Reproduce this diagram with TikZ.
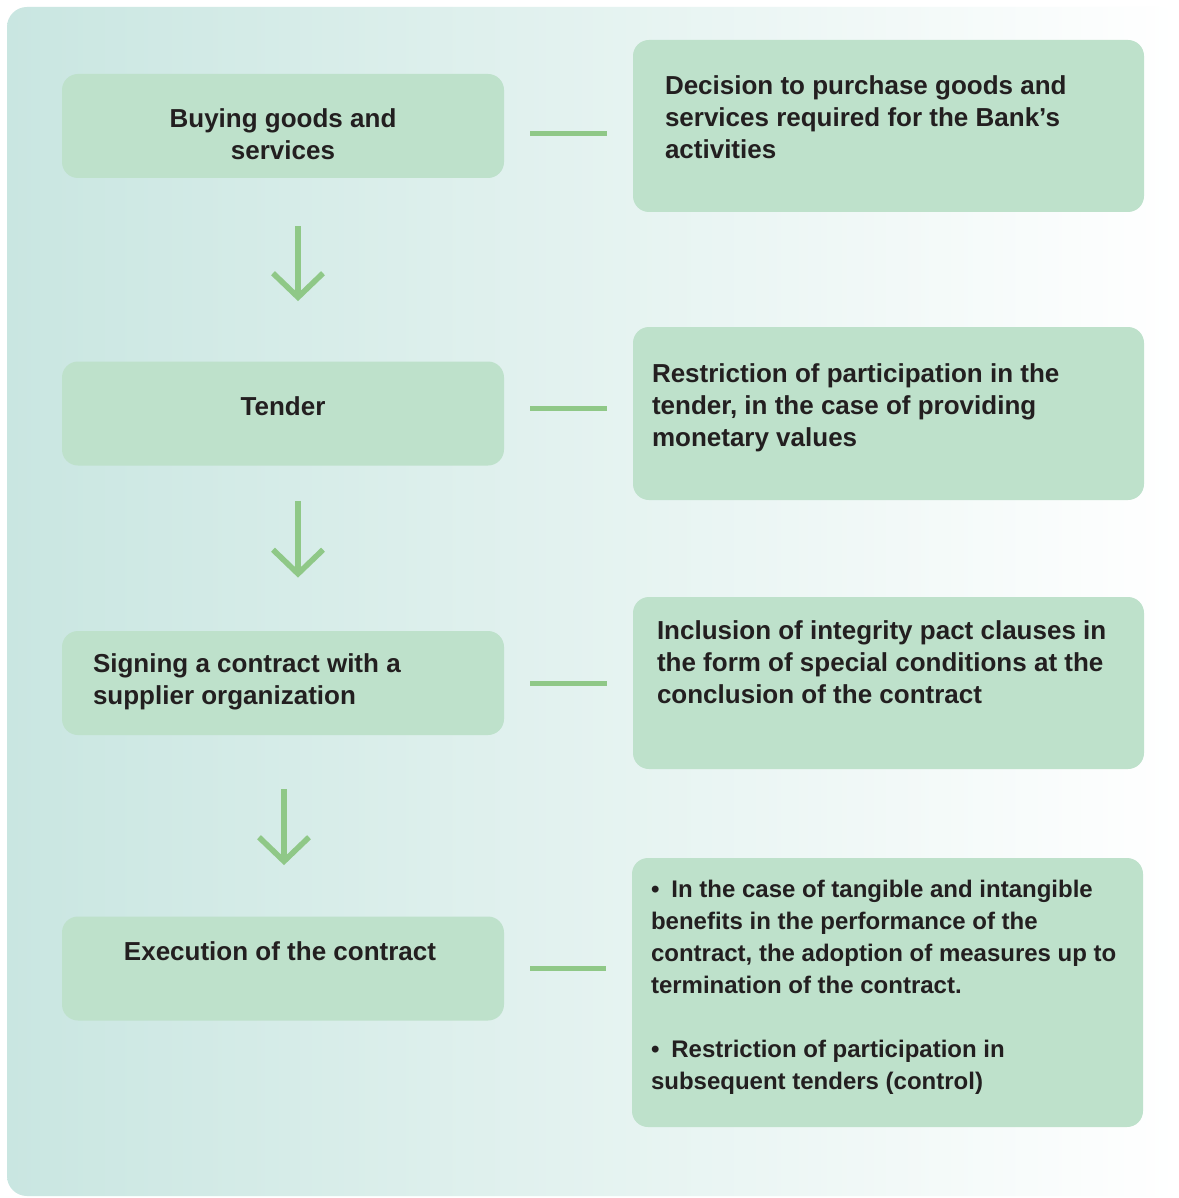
\documentclass[tikz,border=0pt]{standalone}
\usepackage{fontspec}
\setmainfont{Liberation Sans}
\usepackage{xcolor}
\usetikzlibrary{arrows.meta,positioning}
\definecolor{panelleft}{HTML}{C9E6E1}
\definecolor{boxfill}{HTML}{BEE1CB}
\definecolor{flowgreen}{HTML}{8FC887}
\definecolor{inktext}{HTML}{231F20}
\newcommand\firstline{\rule{0pt}{11pt}}

\begin{document}
\begin{tikzpicture}[
  x=0.5pt, y=-0.5pt,
  stage/.style={fill=boxfill, rounded corners=8pt, minimum width=221pt, minimum height=52pt, inner sep=0pt},
  note/.style={fill=boxfill, rounded corners=8pt, minimum width=255.5pt, minimum height=86pt, inner sep=0pt},
  txt/.style={font=\fontsize{13}{16}\selectfont\bfseries, text=inktext, inner sep=0pt, align=left},
  ctxt/.style={txt, align=center},
  arrow/.style={-{Straight Barb[length=12pt,width=25pt]}, line width=2.8pt, draw=flowgreen},
  link/.style={draw=flowgreen, line width=2.5pt, shorten <=13pt, shorten >=13pt}
]
\useasboundingbox (0,0) rectangle (1178,1198);
\fill[white] (0,0) rectangle (1178,1198);
\shade[left color=panelleft, right color=white, rounded corners=10pt] (7,7) rectangle (1178,1196);

\node[stage] (buy) at (283,126) {};
\node[stage] (tender) at (283,413.5) {};
\node[stage] (sign) at (283,683) {};
\node[stage] (exec) at (283,968.5) {};

\node[note] (decide) at (888.5,126) {};
\node[note, minimum height=86.5pt] (restrict) at (888.5,413.5) {};
\node[note] (pact) at (888.5,683) {};
\node[note, minimum height=134.5pt] (measures) at (887.5,992.5) {};

\node[ctxt, anchor=north] (buy-txt) at ([shift={(0,-21)}]buy.center) {\firstline Buying goods and\\services};
\node[ctxt, anchor=north] (tender-txt) at ([shift={(0,-20.5)}]tender.center) {\firstline Tender};
\node[txt, anchor=north west] (sign-txt) at ([shift={(31,19)}]sign.north west) {\firstline Signing a contract with a\\supplier organization};
\node[ctxt, anchor=north] (exec-txt) at ([shift={(-3,-30.5)}]exec.center) {\firstline Execution of the contract};

\node[txt, anchor=north west] (decide-txt) at ([shift={(32,33)}]decide.north west) {\firstline Decision to purchase goods and\\services required for the Bank’s\\activities};
\node[txt, anchor=north west] (restrict-txt) at ([shift={(19,33)}]restrict.north west) {\firstline Restriction of participation in the\\tender, in the case of providing\\monetary values};
\node[txt, anchor=north west] (pact-txt) at ([shift={(24,20)}]pact.north west) {\firstline Inclusion of integrity pact clauses in\\the form of special conditions at the\\conclusion of the contract};
\node[txt, font=\fontsize{12}{16}\selectfont\bfseries, anchor=north west] (measures-txt) at ([shift={(19,17)}]measures.north west) {\firstline\textbullet\hspace{6pt}In the case of tangible and intangible\\benefits in the performance of the\\contract, the adoption of measures up to\\termination of the contract.\\[16pt]\textbullet\hspace{6pt}Restriction of participation in\\subsequent tenders (control)};

\draw[link] ([yshift=-4pt]buy.east) -- ([yshift=-4pt]buy.east -| decide.west);
\draw[link] ([yshift=2.75pt]tender.east) -- ([yshift=2.75pt]tender.east -| restrict.west);
\draw[link] (sign.east) -- (sign.east -| pact.west);
\draw[link] (exec.east) -- (exec.east -| measures.west);

\draw[arrow, shorten <=24pt, shorten >=30pt] ([xshift=7.5pt]buy.south) -- ([xshift=7.5pt]tender.north);
\draw[arrow, shorten <=17.5pt, shorten >=26.5pt] ([xshift=7.5pt]tender.south) -- ([xshift=7.5pt]sign.north);
\draw[arrow, shorten <=27pt, shorten >=25.5pt] ([xshift=0.5pt]sign.south) -- ([xshift=0.5pt]exec.north);
\end{tikzpicture}
\end{document}
